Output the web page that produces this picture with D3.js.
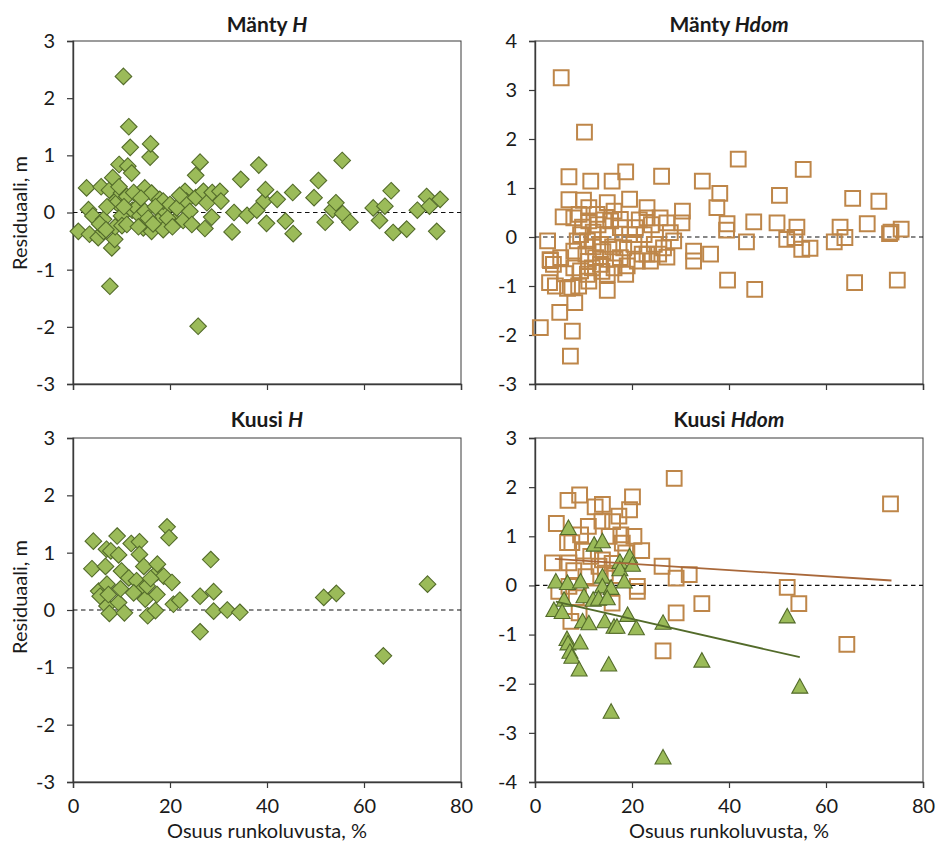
<!DOCTYPE html>
<html>
<head>
<meta charset="utf-8">
<script src="https://cdn.jsdelivr.net/npm/d3@7"></script>
<style>
  body { margin: 0; background: #fff; }
  svg text { font-family: Lato, "Open Sans", sans-serif; fill: #1a1a1a; }
</style>
</head>
<body>
<svg id="chart" width="939" height="845"></svg>
<script>
// Share of stem number (%) and height residual (m)
const xTicks = [0, 20, 40, 60, 80];
const yTicksH = [-3, -2, -1, 0, 1, 2, 3];
const yTicksManty = [-3, -2, -1, 0, 1, 2, 3, 4];
const yTicksKuusi = [-4, -3, -2, -1, 0, 1, 2, 3];

const xTitle = "Osuus runkoluvusta, %";
const yTitle = "Residuaali, m";

// Mänty H residuals [share %, residual m]
const mantyH = [
  [1.1,-0.33],[2.8,0.43],[3.2,0.05],[3.4,-0.38],[4.1,-0.06],[5.2,-0.44],[5.8,0.45],[6.3,-0.12],
  [6.3,-0.33],[7.5,0.39],[7.6,-1.29],[8.0,-0.62],[8.2,0.61],[8.6,-0.47],[8.7,-0.25],[8.7,0.20],
  [9.0,0.17],[9.5,0.84],[10.0,-0.06],[10.0,0.34],[10.1,-0.23],[10.4,2.38],[11.1,0.28],[11.1,-0.21],
  [11.3,0.81],[11.5,1.50],[11.8,1.14],[12.1,0.69],[12.2,0.04],[13.1,0.08],[13.8,-0.06],[14.5,-0.27],
  [14.8,0.02],[14.8,0.43],[15.9,0.97],[16.0,1.20],[16.2,0.34],[16.2,-0.33],[17.6,-0.15],[17.9,0.23],
  [18.6,0.05],[18.6,0.20],[18.6,-0.30],[20.0,0.14],[21.0,-0.15],[21.4,0.08],[22.7,-0.14],[23.1,0.37],
  [23.4,0.20],[24.1,0.02],[24.5,-0.21],[25.3,0.65],[25.3,0.26],[25.8,-1.99],[26.2,0.88],[26.9,0.37],
  [27.2,-0.28],[27.6,0.17],[28.6,-0.08],[28.7,0.35],[30.3,0.37],[30.5,0.20],[32.8,-0.34],[33.2,0.00],
  [34.6,0.58],[35.9,-0.05],[37.9,0.04],[38.3,0.83],[39.4,0.20],[39.7,0.40],[39.9,-0.19],[42.1,0.23],
  [43.8,-0.15],[45.3,0.35],[45.4,-0.37],[49.7,0.26],[50.6,0.56],[52.0,-0.17],[53.5,0.05],[54.2,0.17],
  [55.5,0.91],[55.6,-0.02],[57.1,-0.17],[61.9,0.08],[63.2,-0.14],[64.3,0.11],[65.6,0.38],[66.0,-0.35],
  [68.8,-0.29],[71.0,0.04],[72.9,0.28],[73.5,0.11],[75.0,-0.33],[75.7,0.23],
  [5.5,-0.20],[7.0,0.10],[9.5,0.45],[12.5,0.35],[13.5,-0.25],[15.5,-0.10],[17.0,0.10],[19.5,-0.10],
  [20.5,-0.25],[22.0,0.30],[10.5,0.10],[14.0,0.25],[16.5,-0.20],[6.8,-0.30]
];

// Mänty Hdom residuals
const mantyHdom = [
  [1.1,-1.85],[2.6,-0.08],[3.0,-0.93],[3.1,-0.46],[3.2,-0.48],[3.8,-0.56],[4.2,-1.00],[5.1,-1.54],
  [5.3,-0.42],[5.4,3.25],[5.8,0.41],[6.7,-1.05],[7.0,0.76],[7.0,1.23],[7.6,-1.03],[7.3,-2.43],
  [7.7,-1.92],[8.0,0.39],[8.0,-0.29],[8.0,-0.63],[8.2,-1.34],[8.7,-0.08],[9.1,0.46],[9.4,0.05],
  [9.4,-0.69],[10.2,2.14],[10.8,-0.08],[10.8,-0.76],[11.1,0.60],[11.1,0.33],[11.1,-0.90],[11.5,1.14],
  [11.8,-0.63],[12.5,-0.42],[12.8,0.46],[13.5,-0.15],[13.5,-0.56],[14.9,0.70],[14.9,-0.76],[14.9,-1.09],
  [15.6,0.33],[15.9,1.14],[16.3,0.53],[16.3,-0.63],[17.6,0.36],[17.6,0.19],[17.6,-0.42],[18.3,-0.22],
  [18.7,1.33],[18.7,-0.76],[19.0,-0.59],[19.5,0.77],[20.4,-0.15],[20.7,0.19],[21.1,-0.49],[22.1,-0.35],
  [23.1,0.60],[23.1,0.39],[23.1,-0.35],[23.8,-0.49],[24.6,-0.15],[25.8,0.39],[26.1,1.24],[26.5,-0.22],
  [27.2,0.29],[27.2,-0.41],[27.9,0.09],[28.6,-0.08],[30.3,0.29],[30.4,0.53],[32.7,-0.29],[32.7,-0.49],
  [34.5,1.14],[36.2,-0.35],[37.5,0.60],[38.1,0.89],[39.5,0.14],[39.6,0.27],[39.7,-0.88],[41.9,1.59],
  [43.6,-0.10],[45.1,0.31],[45.3,-1.07],[49.9,0.29],[50.4,0.85],[51.9,-0.05],[53.6,-0.01],[54.0,0.20],
  [55.0,-0.25],[55.3,1.38],[56.7,-0.23],[61.7,-0.10],[62.9,0.20],[63.9,-0.01],[65.5,0.79],[65.9,-0.93],
  [68.5,0.27],[70.9,0.73],[73.1,0.07],[73.4,0.10],[74.7,-0.88],[75.5,0.16],
  [9.8,0.20],[10.5,-0.35],[12.0,0.10],[13.0,0.25],[14.0,-0.30],[15.0,0.05],[16.0,-0.20],[12.0,-0.20],
  [19.5,0.05],[21.5,0.35],[22.5,0.05],[24.0,0.25],[25.5,-0.35],[14.2,0.35],[10.0,0.75],[16.5,-0.45],
  [11.0,-0.50],[13.8,-0.70],[6.2,-0.75],[9.0,-1.0]
];

// Kuusi H residuals
const kuusiH = [
  [3.9,0.72],[4.2,1.20],[5.3,0.33],[5.6,0.24],[6.7,0.76],[6.9,1.06],[7.0,0.45],[7.0,0.07],
  [7.3,0.27],[7.5,-0.06],[7.8,1.03],[9.1,1.29],[9.4,0.96],[9.4,0.13],[9.8,0.37],[10.0,0.68],
  [10.6,-0.05],[11.5,0.56],[12.0,1.16],[13.1,0.51],[13.7,1.19],[13.7,0.97],[14.6,0.76],[14.6,0.39],
  [14.9,0.19],[15.3,0.42],[15.4,-0.10],[17.0,-0.01],[17.3,0.65],[17.3,0.27],[17.4,0.80],[18.7,0.59],
  [19.4,1.45],[19.8,1.26],[20.4,0.48],[20.7,0.10],[22.0,0.17],[26.2,0.24],[26.2,-0.38],[28.4,0.88],
  [29.0,0.32],[29.0,-0.02],[31.8,0.00],[34.4,-0.04],[51.7,0.22],[54.3,0.29],[64.0,-0.80],[73.1,0.45],
  [12.5,0.30],[16.0,0.55]
];

// Kuusi Hdom residuals: squares and triangles
const kuusiHdomA = [
  [3.6,0.46],[4.4,1.26],[4.9,-0.12],[6.7,0.87],[6.8,1.73],[7.0,0.46],[7.0,-0.02],[7.4,-0.73],
  [7.6,0.87],[9.1,-0.56],[9.2,1.84],[9.4,1.03],[10.5,0.18],[11.5,0.59],[12.4,1.60],[13.2,0.39],
  [13.8,1.31],[13.9,1.65],[13.9,0.52],[15.3,1.00],[15.9,-0.36],[15.9,0.45],[17.3,1.41],[17.7,1.03],
  [18.0,0.86],[18.7,0.66],[19.5,1.54],[20.1,1.80],[20.4,1.00],[21.1,-0.02],[21.1,-0.12],[22.0,0.71],
  [26.2,0.39],[26.4,-1.33],[28.7,2.18],[29.1,0.15],[29.1,-0.56],[31.8,0.22],[34.4,-0.37],[52.0,-0.04],
  [54.4,-0.37],[64.3,-1.20],[73.3,1.66],
  [8.0,0.30],[10.0,0.70],[12.0,-0.15],[14.5,0.25],[16.5,0.20],[8.5,-0.25],[11.0,1.20],[16.0,1.30]
];
const kuusiHdomB = [
  [4.3,0.08],[6.7,0.05],[6.9,1.17],[9.4,0.08],[12.2,0.83],[13.9,0.90],[13.9,0.18],[13.9,-0.02],
  [15.7,-0.05],[17.5,0.48],[17.5,0.33],[19.5,0.59],[20.1,0.42],[18.4,0.08],[10.1,-0.22],[12.0,-0.29],
  [13.1,-0.27],[14.9,-0.26],[6.0,-0.29],[3.9,-0.50],[5.6,-0.54],[9.8,-0.73],[11.1,-0.77],[14.4,-0.73],
  [16.3,-0.84],[16.9,-0.84],[19.1,-0.60],[20.9,-0.87],[26.4,-0.76],[52.0,-0.63],[6.6,-1.09],[6.8,-1.18],
  [9.3,-1.16],[7.2,-1.35],[7.6,-1.45],[9.1,-1.71],[15.2,-1.61],[34.4,-1.53],[54.6,-2.06],[15.7,-2.57],
  [26.4,-3.50]
];
// Linear trends
const trendA = [[4.1,0.54],[73.5,0.10]];
const trendB = [[4.3,-0.33],[54.6,-1.46]];

const green = "#9bbb59", greenDark = "#536b2a";
const brown = "#be8649", brownLine = "#a9683a";

const svg = d3.select("#chart");

const panels = [
  { name: "Mänty ", em: "H", left: 73, right: 461, top: 41, bottom: 384, yDomain: [-3, 3], yTicks: yTicksH,
    titleY: 32, xLabels: false, yTitleY: 213,
    series: [{ data: mantyH, shape: "diamond" }], trends: [] },
  { name: "Mänty ", em: "Hdom", left: 535, right: 923, top: 41, bottom: 384, yDomain: [-3, 4], yTicks: yTicksManty,
    titleY: 32, xLabels: false,
    series: [{ data: mantyHdom, shape: "square" }], trends: [] },
  { name: "Kuusi ", em: "H", left: 73, right: 461, top: 438, bottom: 782, yDomain: [-3, 3], yTicks: yTicksH,
    titleY: 427, xLabels: true, yTitleY: 597,
    series: [{ data: kuusiH, shape: "diamond" }], trends: [] },
  { name: "Kuusi ", em: "Hdom", left: 535, right: 923, top: 438, bottom: 782, yDomain: [-4, 3], yTicks: yTicksKuusi,
    titleY: 427, xLabels: true,
    series: [{ data: kuusiHdomA, shape: "square" }, { data: kuusiHdomB, shape: "triangle" }],
    trends: [{ data: trendA, color: brownLine }, { data: trendB, color: greenDark }] }
];

const shapes = {
  diamond: "M0,-8.3L8.3,0L0,8.3L-8.3,0Z",
  square: "M-7.4,-7.4H7.4V7.4H-7.4Z",
  triangle: "M0,-8L8,6.5H-8Z"
};

const fmt = d => String(d);

panels.forEach(p => {
  const x = d3.scaleLinear().domain([0, 80]).range([p.left, p.right]);
  const y = d3.scaleLinear().domain(p.yDomain).range([p.bottom, p.top]);
  const g = svg.append("g");

  // frame
  g.append("rect").attr("x", p.left).attr("y", p.top)
    .attr("width", p.right - p.left).attr("height", p.bottom - p.top)
    .attr("fill", "none").attr("stroke", "#3a3a3a").attr("stroke-width", 1);

  // axes
  const yAxis = d3.axisLeft(y).tickValues(p.yTicks).tickSize(6).tickPadding(12).tickFormat(fmt);
  const ya = g.append("g").attr("transform", `translate(${p.left},0)`).call(yAxis);
  const xAxis = d3.axisBottom(x).tickValues(xTicks).tickSize(6).tickPadding(11)
    .tickFormat(p.xLabels ? fmt : () => "");
  const xa = g.append("g").attr("transform", `translate(0,${p.bottom})`).call(xAxis);
  [ya, xa].forEach(a => {
    a.select(".domain").attr("stroke", "#3a3a3a").attr("stroke-width", 1.4);
    a.selectAll(".tick line").attr("stroke", "#3a3a3a").attr("stroke-width", 1.2);
    a.selectAll(".tick text").style("font-size", "20px").attr("fill", "#1a1a1a");
  });

  // zero reference
  g.append("line").attr("x1", x(0)).attr("x2", x(80)).attr("y1", y(0)).attr("y2", y(0))
    .attr("stroke", "#111").attr("stroke-width", 1.2).attr("stroke-dasharray", "4.5,3.5");

  // markers
  p.series.forEach(s => {
    const isSq = s.shape === "square";
    g.append("g").selectAll("path").data(s.data).join("path")
      .attr("d", shapes[s.shape])
      .attr("transform", d => `translate(${x(d[0])},${y(d[1])})`)
      .attr("fill", isSq ? "none" : green)
      .attr("stroke", isSq ? brown : greenDark)
      .attr("stroke-width", isSq ? 2 : 1.1);
  });

  // trend lines
  const line = d3.line().x(d => x(d[0])).y(d => y(d[1]));
  p.trends.forEach(t => {
    g.append("path").attr("d", line(t.data)).attr("fill", "none")
      .attr("stroke", t.color).attr("stroke-width", 1.8);
  });

  // title
  const t = g.append("text").attr("x", (p.left + p.right) / 2).attr("y", p.titleY)
    .attr("text-anchor", "middle").style("font-size", "21px").style("font-weight", "bold");
  t.append("tspan").text(p.name);
  t.append("tspan").style("font-style", "italic").text(p.em);

  // axis titles
  if (p.yTitleY) {
    g.append("text")
      .attr("transform", `translate(20,${p.yTitleY}) rotate(-90)`)
      .attr("text-anchor", "middle").attr("dy", "0.35em").style("font-size", "20px").text(yTitle);
  }
  if (p.xLabels) {
    g.append("text").attr("x", (p.left + p.right) / 2).attr("y", 838)
      .attr("text-anchor", "middle").style("font-size", "20px").text(xTitle);
  }
});
</script>
</body>
</html>
